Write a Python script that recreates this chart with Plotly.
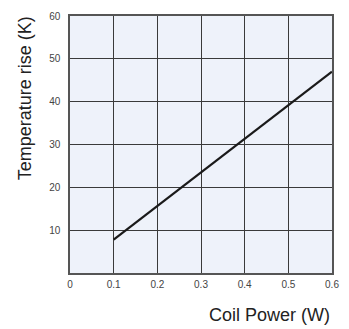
import plotly.graph_objects as go

power = [0.1, 0.6]
temp_rise = [7.8, 47.0]
x_ticks = [0, 0.1, 0.2, 0.3, 0.4, 0.5, 0.6]
y_ticks = [10, 20, 30, 40, 50, 60]

font = "Liberation Sans, Arial, sans-serif"

fig = go.Figure()
fig.add_trace(go.Scatter(x=power, y=temp_rise, mode="lines",
                         line=dict(color="#1a1a1a", width=2.2), showlegend=False))

fig.update_layout(
    width=349, height=329,
    margin=dict(l=70, r=16, t=10, b=56),
    paper_bgcolor="white", plot_bgcolor="#EEF2FA",
    font=dict(family=font, size=10, color="#444"),
)
fig.update_xaxes(range=[0, 0.6], tickvals=x_ticks, ticktext=[str(v) for v in x_ticks],
                 showgrid=True, gridcolor="#3a3a3a", gridwidth=1,
                 showline=True, linecolor="#555", linewidth=1.5, mirror=True,
                 ticks="", ticklabelstandoff=1, zeroline=False)
fig.update_yaxes(range=[0, 60], tickvals=y_ticks, ticktext=[str(v) for v in y_ticks],
                 showgrid=True, gridcolor="#3a3a3a", gridwidth=1,
                 showline=True, linecolor="#555", linewidth=1.5, mirror=True,
                 ticks="", ticklabelstandoff=6, zeroline=False)
fig.add_annotation(text="Temperature rise (K)", textangle=-90, xref="paper", yref="y",
                   x=0, y=40.8, xanchor="center", yanchor="middle",
                   showarrow=False, font=dict(family=font, size=18, color="#222"),
                   xshift=-45)
fig.add_annotation(text="Coil Power (W)", xref="paper", yref="paper",
                   x=1, y=0, xanchor="right", yanchor="middle", yshift=-42,
                   showarrow=False, font=dict(family=font, size=18, color="#222"))
fig.write_html("out.html", config={"displayModeBar": False},
               post_script="document.body.style.margin='0';")
